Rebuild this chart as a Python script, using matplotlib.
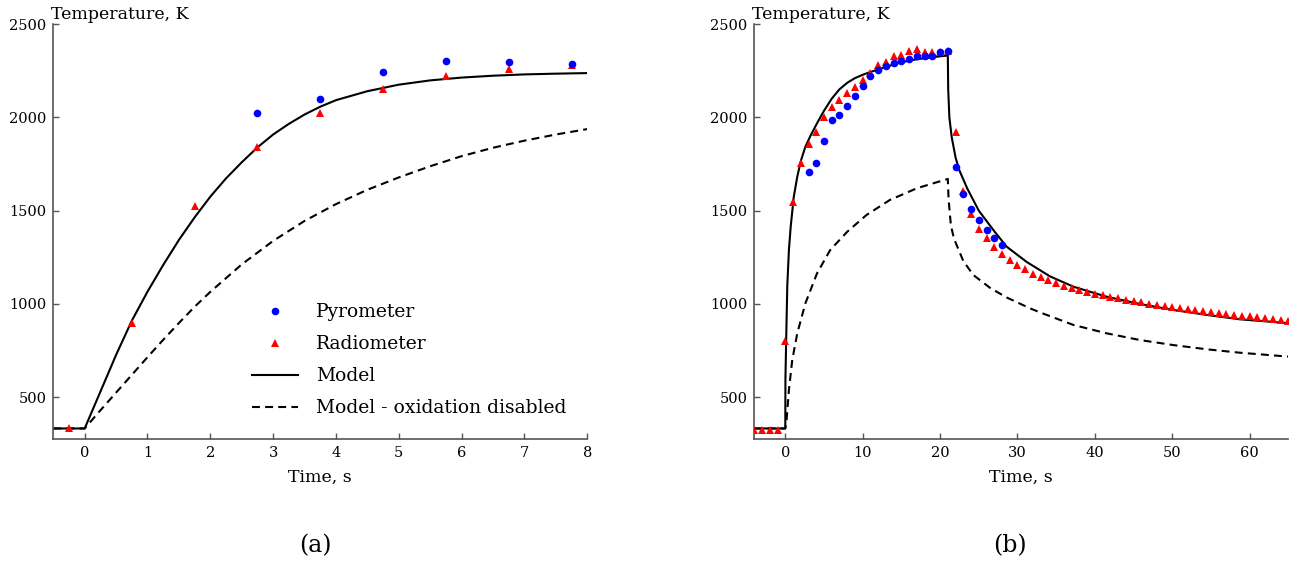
import matplotlib
matplotlib.use('Agg')
import matplotlib.pyplot as plt
from matplotlib.lines import Line2D

plt.rcParams['font.family'] = ['DejaVu Serif']

# ── (a) short exposure ──────────────────────────────────────────────────────
a_pyro_t = [2.75, 3.75, 4.75, 5.75, 6.75, 7.75]
a_pyro_T = [2022, 2100, 2243, 2303, 2294, 2284]

a_radio_t = [-0.25, 0.75, 1.75, 2.75, 3.75, 4.75, 5.75, 6.75, 7.75]
a_radio_T = [338, 900, 1524, 1840, 2025, 2150, 2223, 2259, 2280]

a_model_t = [-0.5, 0, 0.25, 0.5, 0.75, 1, 1.25, 1.5, 1.75, 2, 2.25, 2.5, 2.75,
             3, 3.25, 3.5, 3.75, 4, 4.5, 5, 5.5, 6, 6.5, 7, 7.5, 8]
a_model_T = [333, 333, 530, 727, 910, 1066, 1209, 1343, 1464, 1575, 1673, 1759, 1839,
             1908, 1965, 2015, 2057, 2092, 2140, 2175, 2198, 2213, 2223, 2230, 2234, 2237]

a_noox_t = [-0.5, 0, 0.25, 0.5, 0.75, 1, 1.25, 1.5, 1.75, 2, 2.5, 3, 3.5, 4,
            4.5, 5, 5.5, 6, 6.5, 7, 7.5, 8]
a_noox_T = [333, 333, 430, 525, 620, 715, 808, 898, 985, 1065, 1212, 1338, 1445, 1535,
            1612, 1678, 1738, 1792, 1837, 1875, 1908, 1937]

# ── (b) long exposure ───────────────────────────────────────────────────────
b_pyro_t = list(range(3, 29))
b_pyro_T = [1705, 1756, 1875, 1984, 2014, 2062, 2113, 2166, 2223, 2254, 2273, 2293, 2302,
            2311, 2327, 2330, 2327, 2352, 2355, 1735, 1591, 1510, 1449, 1397, 1353, 1314]

b_radio_t = list(range(-4, 66))
b_radio_T = [325, 325, 325, 325,
             804, 1546, 1755, 1859, 1921, 2002, 2057, 2093, 2128, 2164, 2202, 2238,
             2280, 2299, 2329, 2336, 2353, 2364, 2348, 2352, 2348, 2353,
             1920, 1607, 1482, 1402, 1351, 1307, 1270, 1238, 1209, 1188, 1161, 1143,
             1129, 1114, 1098, 1088, 1075, 1064, 1054, 1046, 1039, 1030, 1023, 1016,
             1009, 1002, 996, 989, 984, 977, 971, 966, 961, 955, 952, 946, 943, 938,
             934, 929, 925, 920, 916, 911]

b_model_t = [-4, 0, 0.02, 0.13, 0.26, 0.47, 0.7, 1.1, 1.55, 2, 2.6, 3.3, 4.1, 5, 6, 7, 8,
             9, 10, 11, 12, 13, 14, 15, 16, 17, 18, 19, 20, 21, 21.05, 21.2, 21.5, 22,
             22.5, 23.5, 25, 27, 28.6, 31.2, 34.2, 37.2, 41.5, 45.8, 50.1, 54.5, 58.7, 65]
b_model_T = [333, 333, 600, 840, 1100, 1290, 1415, 1575, 1682, 1765, 1843, 1905, 1968,
             2035, 2100, 2150, 2185, 2210, 2228, 2243, 2256, 2270, 2283, 2295, 2304, 2311,
             2317, 2322, 2327, 2331, 2150, 2000, 1895, 1785, 1715, 1620, 1500, 1390, 1307,
             1225, 1148, 1093, 1039, 1000, 968, 941, 918, 897]

b_noox_t = [-4, 0, 0.17, 0.47, 0.9, 1.55, 2.6, 4.1, 5.8, 8, 10.5, 13.5, 17, 21, 21.1,
            21.4, 21.8, 22.5, 23, 24.3, 26.5, 28.6, 31.6, 32.9, 37.2, 41.5, 45.8, 50.1,
            54.5, 58.7, 65]
b_noox_T = [333, 333, 380, 540, 700, 843, 1004, 1164, 1289, 1387, 1477, 1557, 1620, 1670,
            1560, 1420, 1350, 1280, 1230, 1155, 1085, 1035, 977, 955, 888, 843, 807, 780,
            757, 739, 718]

SPINE = '#555555'

fig = plt.figure(figsize=(12.99, 5.65), dpi=100)
ax_a = fig.add_axes([0.0410, 0.2225, 0.4111, 0.735])
ax_b = fig.add_axes([0.5807, 0.2225, 0.4111, 0.735])


def style(ax, xlim, xticks):
    ax.set_xlim(*xlim)
    ax.set_ylim(275, 2500)
    ax.set_xticks(xticks)
    ax.set_yticks([500, 1000, 1500, 2000, 2500])
    for s in ('top', 'right'):
        ax.spines[s].set_visible(False)
    for s in ('left', 'bottom'):
        ax.spines[s].set_color(SPINE)
        ax.spines[s].set_linewidth(1.2)
    ax.tick_params(direction='in', length=4, width=1.0, color=SPINE,
                   labelsize=10.5, pad=5)
    ax.set_xlabel('Time, s', fontsize=12.5, labelpad=6)
    ax.text(-0.005, 1.012, 'Temperature, K', transform=ax.transAxes,
            fontsize=12.5, ha='left', va='baseline')


def draw(ax, pt, pT, rt, rT, mt, mT, nt, nT):
    ax.plot(mt, mT, color='black', lw=1.5, zorder=2)
    ax.plot(nt, nT, color='black', lw=1.5, dashes=[3.8, 2.5], zorder=2)
    ax.plot(rt, rT, '^', color='red', ms=5.5, mew=0, zorder=3)
    ax.plot(pt, pT, 'o', color='blue', ms=5.5, mew=0, zorder=4)


draw(ax_a, a_pyro_t, a_pyro_T, a_radio_t, a_radio_T,
     a_model_t, a_model_T, a_noox_t, a_noox_T)
draw(ax_b, b_pyro_t, b_pyro_T, b_radio_t, b_radio_T,
     b_model_t, b_model_T, b_noox_t, b_noox_T)

style(ax_a, (-0.5, 8), range(0, 9))
style(ax_b, (-4, 65), range(0, 61, 10))

handles = [
    Line2D([], [], ls='none', marker='o', color='blue', ms=5.5, mew=0),
    Line2D([], [], ls='none', marker='^', color='red', ms=5.5, mew=0),
    Line2D([], [], color='black', lw=1.5),
    Line2D([], [], color='black', lw=1.5, dashes=[3.8, 2.5]),
]
labels = ['Pyrometer', 'Radiometer', 'Model', 'Model - oxidation disabled']
ax_a.legend(handles, labels, loc='upper left', bbox_to_anchor=(0.372, 0.328),
            frameon=False, fontsize=13.5, borderpad=0, borderaxespad=0,
            handlelength=2.45, handletextpad=0.96, labelspacing=0.75, numpoints=1)

fig.text(315 / 1299, 1 - 546 / 565, '(a)', fontsize=17, ha='center', va='center')
fig.text(1010 / 1299, 1 - 546 / 565, '(b)', fontsize=17, ha='center', va='center')

fig.savefig('out.png', dpi=100)
